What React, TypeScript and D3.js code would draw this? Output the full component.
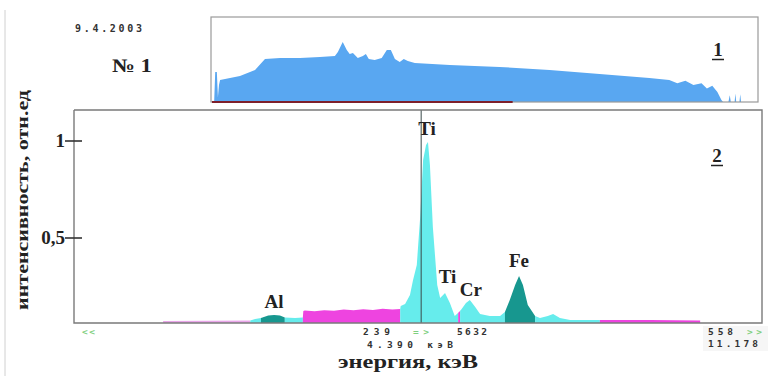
import React from 'react';
import * as d3 from 'd3';

// ---------- data ----------
// main spectrum (window), energy in keV and relative intensity
const mainEnergy = [
  -0.91, 0.88, 0.98, 1.10, 1.25, 1.37, 1.49, 1.59, 1.80, 1.96,
  1.97, 2.0, 2.2, 2.4, 2.6, 2.8, 3.0, 3.2, 3.4, 3.6, 3.8, 3.96,
  3.97, 4.06, 4.16, 4.22, 4.30, 4.37, 4.43, 4.49, 4.53, 4.57, 4.63, 4.72, 4.78, 4.88, 4.98, 5.08,
  5.13, 5.17, 5.21, 5.31, 5.39, 5.50, 5.60, 5.80, 6.01,
  6.11, 6.21, 6.32, 6.40, 6.48, 6.58, 6.73,
  6.83, 6.99, 7.10, 7.24, 7.45, 8.06, 9.09, 10.12,
];
const mainIntensity = [
  0.072, 0.075, 0.082, 0.088, 0.100, 0.103, 0.100, 0.090, 0.088, 0.090,
  0.124, 0.126, 0.122, 0.128, 0.125, 0.131, 0.127, 0.133, 0.129, 0.135, 0.131, 0.134,
  0.150, 0.160, 0.206, 0.280, 0.361, 0.608, 0.902, 0.979, 0.995, 0.876, 0.557, 0.258, 0.191, 0.216, 0.165, 0.098,
  0.110, 0.119, 0.130, 0.165, 0.180, 0.144, 0.108, 0.098, 0.098,
  0.119, 0.180, 0.258, 0.304, 0.258, 0.155, 0.098,
  0.088, 0.098, 0.108, 0.088, 0.077, 0.077, 0.077, 0.075,
];
// colour zones of the window spectrum (keV)
const zoneStart = [-0.91, 0.88, 1.10, 1.59, 1.96, 3.96, 5.15, 5.19, 6.11, 6.73, 8.06];
const zoneEnd = [0.88, 1.10, 1.59, 1.96, 3.96, 5.15, 5.19, 6.11, 6.73, 8.06, 10.12];
const zoneKind = ['bgLow', 'line', 'roi', 'line', 'bg', 'line', 'bg', 'line', 'roi', 'line', 'bg'];

// overview spectrum (panel 1)
const overviewEnergy = [
  0.08, 0.12, 0.18, 0.22, 0.26, 0.30, 1.04, 1.60, 1.97, 2.53, 3.27, 4.01, 4.57, 4.68, 4.86, 5.01,
  5.12, 5.24, 5.42, 5.61, 5.72, 5.83, 6.05, 6.31, 6.50, 6.65, 6.80, 6.98, 7.13, 7.28, 7.54,
  8.84, 10.69, 12.55, 14.41, 16.26, 17.0, 17.3, 17.6, 17.9, 18.2, 18.4, 18.6, 18.79, 18.94, 19.0,
  19.2, 19.25, 19.29, 19.43, 19.46, 19.49, 19.61, 19.64, 19.67,
];
const overviewCounts = [
  0.0, 0.353, 0.353, 0.06, 0.20, 0.259, 0.306, 0.376, 0.506, 0.518, 0.518, 0.529, 0.541, 0.588, 0.706, 0.612,
  0.565, 0.576, 0.518, 0.541, 0.565, 0.506, 0.494, 0.518, 0.612, 0.612, 0.506, 0.471, 0.506, 0.482, 0.459,
  0.435, 0.412, 0.376, 0.329, 0.282, 0.26, 0.22, 0.25, 0.20, 0.22, 0.16, 0.19, 0.118, 0.024, 0.0,
  0.0, 0.08, 0.0, 0.0, 0.10, 0.0, 0.0, 0.09, 0.0,
];

const yTicks = [1, 0.5];
const yTickLabels = ['1', '0,5'];
const peakNames = ['Al', 'Ti', 'Ti', 'Cr', 'Fe'];
const peakEnergy = [1.37, 4.51, 4.93, 5.41, 6.40];
const peakLabelValue = [0.14, 1.03, 0.27, 0.20, 0.35];

const dateText = '9.4.2003';
const sampleText = '№ 1';
const cursorEnergy = 4.390;
const windowEnd = 11.178;
const leftCount = '239';
const rightCount = '5632';
const endCount = '558';
const xTitle = 'энергия, кэВ';
const yTitle = 'интенсивность, отн.ед';

// ---------- styles ----------
const COLORS: Record<string, string> = {
  bgLow: '#eaa6ea',
  line: '#66ecec',
  roi: '#17978f',
  bg: '#ee44e0',
};
const SERIF = '"Liberation Serif", "DejaVu Serif", serif';
const MONO = '"DejaVu Sans Mono", "Liberation Mono", monospace';
const SMALL = 9.5;

export default function App() {
  const W = 768, H = 376;
  // main panel
  const mL = 74, mR = 762, mT = 110, mB = 323;
  const x = d3.scaleLinear().domain([-2.74, 11.39]).range([mL, mR]);
  const y = d3.scaleLinear().domain([0, 1]).range([335, 141]);
  // overview panel
  const oL = 212, oR = 758, oT = 17, oB = 102;
  const xo = d3.scaleLinear().domain([0, 20.3]).range([oL, oR]);
  const yo = d3.scaleLinear().domain([0, 1]).range([oB, oT]);

  const pts = mainEnergy.map((e, i) => [e, mainIntensity[i]] as [number, number]);
  const interp = (e: number) => {
    for (let i = 0; i < pts.length - 1; i++) {
      if (e >= pts[i][0] && e <= pts[i + 1][0]) {
        const t = (e - pts[i][0]) / (pts[i + 1][0] - pts[i][0] || 1);
        return pts[i][1] + t * (pts[i + 1][1] - pts[i][1]);
      }
    }
    return pts[pts.length - 1][1];
  };
  const area = d3
    .area<[number, number]>()
    .x((d) => x(d[0]))
    .y0(mB)
    .y1((d) => Math.min(mB, y(d[1])));

  const zones = zoneStart.map((s, i) => {
    const e = zoneEnd[i];
    const seg: [number, number][] = [[s, interp(s)]];
    pts.forEach((p) => {
      if (p[0] > s && p[0] < e) seg.push(p);
    });
    seg.push([e, interp(e)]);
    return { d: area(seg) || '', color: COLORS[zoneKind[i]] };
  });

  const oPts = overviewEnergy.map((e, i) => [e, overviewCounts[i]] as [number, number]);
  const oArea = d3
    .area<[number, number]>()
    .x((d) => xo(d[0]))
    .y0(oB)
    .y1((d) => yo(d[1]))(oPts);

  const cx = x(cursorEnergy);

  return (
    <svg
      width={W}
      height={H}
      style={{ position: 'absolute', left: 0, top: 0, background: '#fff' }}
    >
      <line x1={5} y1={10} x2={5} y2={376} stroke="#d0d0d0" strokeWidth={1} />

      {/* header */}
      <text x={75} y={32} fontFamily={MONO} fontWeight="bold" fontSize={10} fill="#333" textLength={67} lengthAdjust="spacing">
        {dateText}
      </text>
      <text x={112} y={72} fontFamily={SERIF} fontWeight="bold" fontSize={19} fill="#222" textLength={40} lengthAdjust="spacingAndGlyphs">
        {sampleText}
      </text>

      {/* overview panel */}
      <path d={oArea || ''} fill="#59a7f1" />
      <rect x={oL - 1} y={oT} width={oR - oL + 1} height={oB - oT} fill="none" stroke="#9a9a9a" strokeWidth={1.2} />
      <line x1={xo(0)} y1={oB} x2={xo(windowEnd)} y2={oB} stroke="#7e1f2a" strokeWidth={2.2} />
      <text x={718} y={56} textAnchor="middle" fontFamily={SERIF} fontWeight="bold" fontSize={19} fill="#222">1</text>
      <line x1={712} y1={59.5} x2={724} y2={59.5} stroke="#222" strokeWidth={1.5} />

      {/* main panel */}
      {zones.map((z, i) => (
        <path key={i} d={z.d} fill={z.color} />
      ))}
      <line x1={cx} y1={mT} x2={cx} y2={mB} stroke="#3a4a4a" strokeWidth={1} />
      <polyline
        points={`${mL},${mT} ${mR},${mT} ${mR},${mB} ${mL},${mB} ${mL},${mT}`}
        fill="none"
        stroke="#7a7a7a"
        strokeWidth={1.4}
      />
      <text x={717} y={162} textAnchor="middle" fontFamily={SERIF} fontWeight="bold" fontSize={19} fill="#222">2</text>
      <line x1={711} y1={165.5} x2={723} y2={165.5} stroke="#222" strokeWidth={1.5} />

      {/* y ticks */}
      {yTicks.map((t, i) => (
        <g key={t}>
          <line x1={65} y1={y(t)} x2={82} y2={y(t)} stroke="#333" strokeWidth={1.6} />
          <text x={65} y={y(t) + 6} textAnchor="end" fontFamily={SERIF} fontWeight="bold" fontSize={19} fill="#222">
            {yTickLabels[i]}
          </text>
        </g>
      ))}

      {/* peak labels */}
      {peakNames.map((n, i) => (
        <text
          key={i}
          x={x(peakEnergy[i])}
          y={y(peakLabelValue[i])}
          textAnchor="middle"
          fontFamily={SERIF}
          fontWeight="bold"
          fontSize={19}
          fill="#222"
        >
          {n}
        </text>
      ))}

      {/* axis annotations */}
      <text x={82} y={335} fontFamily={MONO} fontWeight="bold" fontSize={SMALL} fill="#7fcf7f" textLength={13} lengthAdjust="spacing">{'<<'}</text>
      <text x={363} y={335} fontFamily={MONO} fontWeight="bold" fontSize={SMALL} fill="#333" textLength={27} lengthAdjust="spacing">{leftCount}</text>
      <text x={413} y={335} fontFamily={MONO} fontWeight="bold" fontSize={SMALL} fill="#7fcf7f" textLength={16} lengthAdjust="spacing">{'=>'}</text>
      <text x={457} y={335} fontFamily={MONO} fontWeight="bold" fontSize={SMALL} fill="#333" textLength={30} lengthAdjust="spacing">{rightCount}</text>
      <text x={367} y={347.5} fontFamily={MONO} fontWeight="bold" fontSize={SMALL} fill="#333" textLength={86} lengthAdjust="spacing">
        {`${cursorEnergy.toFixed(3)} кэВ`}
      </text>
      <rect x={703} y={326} width={65} height={25} fill="#f6f6f6" />
      <text x={708} y={334.5} fontFamily={MONO} fontWeight="bold" fontSize={SMALL} fill="#333" textLength={25} lengthAdjust="spacing">{endCount}</text>
      <text x={747} y={334.5} fontFamily={MONO} fontWeight="bold" fontSize={SMALL} fill="#7fcf7f" textLength={15} lengthAdjust="spacing">{'>>'}</text>
      <text x={708} y={347} fontFamily={MONO} fontWeight="bold" fontSize={SMALL} fill="#333" textLength={50} lengthAdjust="spacing">
        {windowEnd.toFixed(3)}
      </text>

      {/* titles */}
      <text x={338} y={368} fontFamily={SERIF} fontWeight="bold" fontSize={19} fill="#222" textLength={140} lengthAdjust="spacingAndGlyphs">
        {xTitle}
      </text>
      <text
        transform="translate(28,200) rotate(-90)"
        textAnchor="middle"
        fontFamily={SERIF}
        fontWeight="bold"
        fontSize={16}
        fill="#222"
        textLength={220}
        lengthAdjust="spacingAndGlyphs"
      >
        {yTitle}
      </text>
    </svg>
  );
}
